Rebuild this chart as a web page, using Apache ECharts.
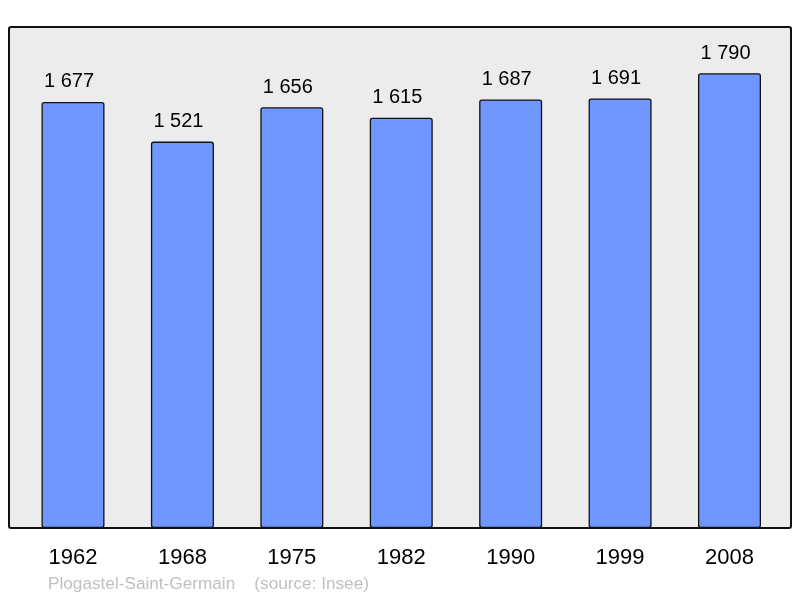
<!DOCTYPE html>
<html><head><meta charset="utf-8">
<script src="https://cdn.jsdelivr.net/npm/echarts@6/dist/echarts.min.js"></script>
<style>html,body{margin:0;padding:0;background:#fff}#c{width:800px;height:598px}</style>
</head><body><div id="c"></div>
<script>
const categories = ['1962','1968','1975','1982','1990','1999','2008'];
const population = [1677,1521,1656,1615,1687,1691,1790];
const footer = 'Plogastel-Saint-Germain    (source: Insee)';

const chart = echarts.init(document.getElementById('c'), null, {renderer:'canvas'});
const fmt = v => String(v).replace(/\B(?=(\d{3})+(?!\d))/g, ' ');
chart.setOption({
  animation:false,
  grid:{left:18.3, right:15.8, top:27, bottom:70},
  graphic:[
    {type:'rect', z:-10, shape:{x:9,y:27,width:782,height:501,r:2}, style:{fill:'#ececec',stroke:null}},
    {type:'rect', z:100, shape:{x:9,y:27,width:782,height:501,r:2}, style:{fill:null,stroke:'#111',lineWidth:2}},
    {type:'text', left:48, top:576, style:{text:footer, fill:'#c0c0c0', font:'17.2px "Liberation Sans", Arial, sans-serif'}}
  ],
  xAxis:{type:'category', data:categories, axisLine:{show:false}, axisTick:{show:false},
    axisLabel:{margin:19, color:'#000', fontSize:22, fontFamily:'Liberation Sans'}},
  yAxis:{type:'value', min:0, max:1972, show:false, splitLine:{show:false}},
  series:[{type:'bar', data:population, barWidth:63,
    itemStyle:{color:'#7097ff', borderColor:'#111', borderWidth:1.3, borderRadius:2},
    label:{show:true, position:'top', distance:10, offset:[-4,0], color:'#000', fontSize:20, fontFamily:'Liberation Sans',
      formatter:p=>fmt(p.value)}}]
});
</script></body></html>
